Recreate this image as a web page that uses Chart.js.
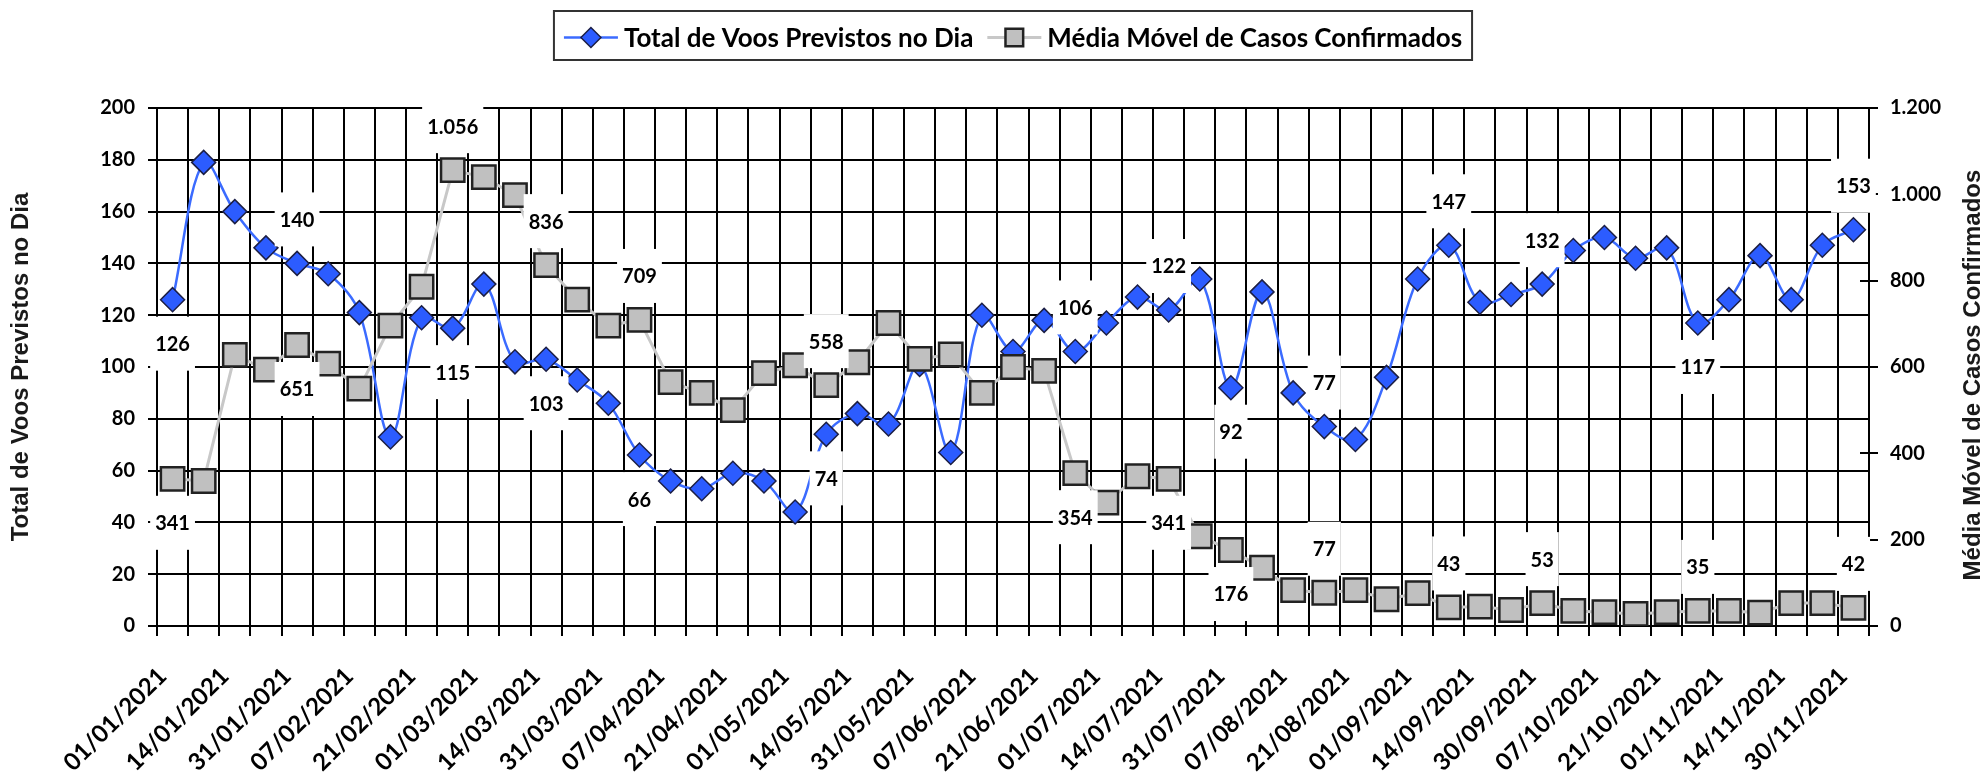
<!DOCTYPE html>
<html>
<head>
<meta charset="utf-8">
<script src="https://cdn.jsdelivr.net/npm/chart.js@4.4.1/dist/chart.umd.min.js"></script>
<style>
  html, body { margin: 0; padding: 0; background: #fff; }
  #wrap { width: 1988px; height: 780px; }
</style>
</head>
<body>
<div id="wrap"><canvas id="chart" width="1988" height="780"></canvas></div>
<script>
'use strict';

/* ── DATA ─────────────────────────────────── */
// date shown under every other category (the ones in between carry no label)
const tickDates = ['01/01/2021','14/01/2021','31/01/2021','07/02/2021','21/02/2021','01/03/2021','14/03/2021',
  '31/03/2021','07/04/2021','21/04/2021','01/05/2021','14/05/2021','31/05/2021','07/06/2021','21/06/2021',
  '01/07/2021','14/07/2021','31/07/2021','07/08/2021','21/08/2021','01/09/2021','14/09/2021','30/09/2021',
  '07/10/2021','21/10/2021','01/11/2021','14/11/2021','30/11/2021'];

const voos = [126,179,160,146,140,136,121,73,119,115,132,102,103,95,86,66,56,53,59,56,
  44,74,82,78,101,67,120,106,118,106,117,127,122,134,92,129,90,77,72,96,
  134,147,125,128,132,145,150,142,146,117,126,143,126,147,153];

const casos = [341,336,628,594,651,608,550,696,786,1056,1040,998,836,756,696,709,565,540,500,586,
  604,558,611,702,619,629,540,600,591,354,286,347,341,208,176,135,83,77,83,62,
  76,43,45,37,53,35,32,28,32,35,35,31,53,53,42];

const leftTicks  = { min: 0, max: 200,  step: 20 };
const rightTicks = { min: 0, max: 1200, step: 200 };

// which points carry a value label, and on which side of the point
const voosLabelIdx   = [0,4,9,12,15,21,29,32,34,37,41,44,49,54];
const voosLabelSide  = ['b','a','b','b','b','b','a','a','b','a','a','a','b','a'];
const casosLabelIdx  = [0,4,9,12,15,21,29,32,34,37,41,44,49,54];
const casosLabelSide = ['b','b','a','a','a','a','b','b','b','a','a','a','a','a'];

const categories = [];
for (let i = 0; i < voos.length; i++) categories.push(i % 2 === 0 ? tickDates[i / 2] : '');

/* ── HELPERS ──────────────────────────────── */
const fmt = v => String(Math.round(v)).replace(/\B(?=(\d{3})+(?!\d))/g, '.');
const LATO = 'Lato, "Open Sans", sans-serif';
const ARIAL = '"Liberation Sans", Arial, sans-serif';

/* ── PLUGINS ──────────────────────────────── */
const valueLabels = {
  id: 'valueLabels',
  beforeDatasetsDraw(chart) {
    // short inner tick marks on the right axis (under the labels)
    const ctx = chart.ctx, ca = chart.chartArea, y1 = chart.scales.y1;
    ctx.save();
    ctx.strokeStyle = '#000';
    ctx.lineWidth = 2;
    y1.ticks.forEach(t => {
      const py = Math.round(y1.getPixelForValue(t.value));
      ctx.beginPath(); ctx.moveTo(ca.right - 9, py); ctx.lineTo(ca.right, py); ctx.stroke();
    });
    ctx.restore();
  },
  afterDatasetsDraw(chart) {
    const ctx = chart.ctx;
    const groups = [[0, voosLabelIdx, voosLabelSide], [1, casosLabelIdx, casosLabelSide]];
    const items = [];
    ctx.save();
    ctx.font = 'bold 20px ' + LATO;
    groups.forEach(([di, idx, side]) => {
      const meta = chart.getDatasetMeta(di);
      idx.forEach((i, k) => {
        const pt = meta.data[i];
        const txt = fmt(chart.data.datasets[di].data[i]);
        const y = pt.y + (side[k] === 'a' ? -44 : 44);
        items.push({ x: pt.x, y, txt, w: ctx.measureText(txt).width + 10 });
      });
    });
    ctx.fillStyle = '#fff';
    items.forEach(it => ctx.fillRect(it.x - it.w / 2, it.y - 27, it.w, 54));
    ctx.fillStyle = '#000';
    ctx.textAlign = 'center';
    ctx.textBaseline = 'middle';
    items.forEach(it => ctx.fillText(it.txt, it.x, it.y + 1));
    ctx.restore();
  }
};

const extras = {
  id: 'extras',
  afterDraw(chart) {
    const ctx = chart.ctx;
    const ca = chart.chartArea;

    // right axis title, reading bottom to top
    ctx.save();
    ctx.font = 'bold 24px ' + ARIAL;
    ctx.fillStyle = '#1a1a1a';
    ctx.textAlign = 'center';
    ctx.textBaseline = 'middle';
    ctx.translate(chart.width - 15, (ca.top + ca.bottom) / 2 + 8);
    ctx.rotate(-Math.PI / 2);
    ctx.fillText('Média Móvel de Casos Confirmados', 0, 0);
    ctx.restore();

    // boxed legend
    const ds = chart.data.datasets;
    ctx.save();
    ctx.font = 'bold 26px ' + LATO;
    const sampleW = 54, gap = 6, itemGap = 14, padX = 10;
    const widths = ds.map(d => ctx.measureText(d.label).width);
    const total = padX * 2 + widths.reduce((a, w) => a + sampleW + gap + w, 0) + itemGap * (ds.length - 1);
    let x = (ca.left + ca.right) / 2 - total / 2;
    const top = 11, h = 49, cy = top + h / 2 + 2;
    ctx.strokeStyle = '#333';
    ctx.lineWidth = 2;
    ctx.strokeRect(x, top, total, h);
    x += padX;
    ds.forEach((d, i) => {
      ctx.strokeStyle = d.borderColor;
      ctx.lineWidth = d.borderWidth;
      ctx.beginPath(); ctx.moveTo(x, cy); ctx.lineTo(x + sampleW, cy); ctx.stroke();
      ctx.fillStyle = d.pointBackgroundColor;
      ctx.strokeStyle = d.pointBorderColor;
      ctx.lineWidth = d.pointBorderWidth;
      Chart.helpers.drawPoint(ctx, { pointStyle: d.pointStyle, radius: d.legendRadius, borderWidth: d.pointBorderWidth, rotation: 0 }, x + sampleW / 2, cy);
      ctx.fillStyle = '#000';
      ctx.textAlign = 'left';
      ctx.textBaseline = 'middle';
      ctx.fillText(d.label, x + sampleW + gap, cy + 1);
      x += sampleW + gap + widths[i] + itemGap;
    });
    ctx.restore();
  }
};

/* ── CHART ────────────────────────────────── */
const tickFont = { family: LATO, size: 20, weight: 'bold' };

new Chart(document.getElementById('chart'), {
  type: 'line',
  data: {
    labels: categories,
    datasets: [{
      label: 'Total de Voos Previstos no Dia',
      data: voos,
      yAxisID: 'y',
      order: 1,
      borderColor: '#3b6bff',
      borderWidth: 2.5,
      tension: 0.35,
      pointStyle: 'rectRot',
      pointRadius: 12,
      legendRadius: 10,
      pointBackgroundColor: '#2c5cff',
      pointBorderColor: '#1c1f45',
      pointBorderWidth: 1.5
    }, {
      label: 'Média Móvel de Casos Confirmados',
      data: casos,
      yAxisID: 'y1',
      order: 0,
      borderColor: '#c8c8c8',
      borderWidth: 3,
      tension: 0,
      pointStyle: 'rect',
      pointRadius: 16.5,
      legendRadius: 12.5,
      pointBackgroundColor: '#c0c0c0',
      pointBorderColor: '#222',
      pointBorderWidth: 2.5
    }]
  },
  options: {
    responsive: false,
    devicePixelRatio: 1,
    animation: false,
    events: [],
    layout: { padding: { top: 108, left: 0, right: 0, bottom: 0 } },
    plugins: { legend: { display: false }, tooltip: { enabled: false } },
    scales: {
      x: {
        type: 'category',
        offset: true,
        grid: { offset: true, color: '#000', lineWidth: 2, tickLength: 10 },
        border: { color: '#000', width: 2 },
        ticks: { autoSkip: false, minRotation: 45, maxRotation: 45, labelOffset: -10, padding: 26,
                 color: '#000', font: { family: LATO, size: 24, weight: 'bold' } },
        afterFit: s => { s.height = 154; }
      },
      y: {
        position: 'left',
        min: leftTicks.min, max: leftTicks.max,
        grid: { color: '#000', lineWidth: 2, tickLength: 9 },
        border: { color: '#000', width: 2 },
        ticks: { stepSize: leftTicks.step, padding: 13, color: '#000', font: tickFont },
        title: { display: true, text: 'Total de Voos Previstos no Dia', color: '#1a1a1a',
                 font: { family: ARIAL, size: 24, weight: 'bold' }, padding: { top: 7, bottom: 0 } },
        afterFit: s => { s.width = 157; }
      },
      y1: {
        position: 'right',
        min: rightTicks.min, max: rightTicks.max,
        grid: { drawOnChartArea: false, color: '#000', lineWidth: 2, tickLength: 9 },
        border: { color: '#000', width: 2 },
        ticks: { stepSize: rightTicks.step, padding: 12, color: '#000', font: tickFont, callback: v => fmt(v) },
        afterFit: s => { s.width = 119; }
      }
    }
  },
  plugins: [valueLabels, extras]
});
</script>
</body>
</html>
